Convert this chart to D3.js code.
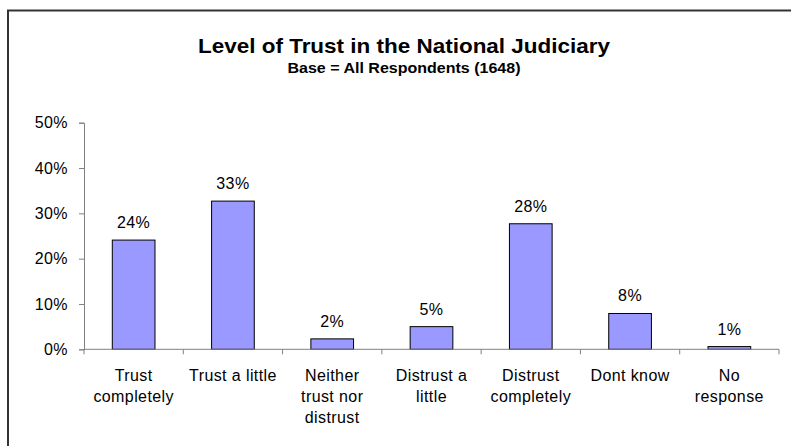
<!DOCTYPE html>
<html>
<head>
<meta charset="utf-8">
<script src="https://cdn.jsdelivr.net/npm/d3@7"></script>
<style>
  html, body { margin: 0; padding: 0; background: #fff; overflow: hidden; }
  svg { display: block; font-family: "Liberation Sans", Arial, sans-serif; }
</style>
</head>
<body>
<svg id="chart" width="791" height="446"></svg>
<script>
// Survey answers: share of all respondents per level of trust
const categories = [
  "Trust\ncompletely",
  "Trust a little",
  "Neither\ntrust nor\ndistrust",
  "Distrust a\nlittle",
  "Distrust\ncompletely",
  "Dont know",
  "No\nresponse"
];
const shares = [0.241, 0.327, 0.023, 0.050, 0.277, 0.079, 0.006];
const yTicks = [0, 0.1, 0.2, 0.3, 0.4, 0.5];
const titleText = "Level of Trust in the National Judiciary";
const subtitleText = "Base = All Respondents (1648)";

const svg = d3.select("#chart");
const pct = d3.format(".0%");

// chart frame: top and left edges (the rest runs past the canvas)
svg.append("path")
  .attr("d", "M8,446 V10.5 H791")
  .attr("fill", "none")
  .attr("stroke", "#333")
  .attr("stroke-width", 2);

const plot = { left: 84, right: 779, top: 122.7, bottom: 349.3 };

const x = d3.scaleBand()
  .domain(categories)
  .range([plot.left, plot.right])
  .padding(0);

const y = d3.scaleLinear()
  .domain([0, 0.5])
  .range([plot.bottom, plot.top]);

const barFrac = 0.43;

// titles
svg.append("text")
  .attr("x", 404).attr("y", 52.7)
  .attr("text-anchor", "middle")
  .attr("font-weight", "bold")
  .attr("font-size", 20.5)
  .attr("textLength", 412)
  .attr("lengthAdjust", "spacingAndGlyphs")
  .attr("fill", "#000")
  .text(titleText);

svg.append("text")
  .attr("x", 404).attr("y", 73.3)
  .attr("text-anchor", "middle")
  .attr("font-weight", "bold")
  .attr("font-size", 15)
  .attr("textLength", 233)
  .attr("lengthAdjust", "spacingAndGlyphs")
  .attr("fill", "#000")
  .text(subtitleText);

// y axis
const yAxis = d3.axisLeft(y)
  .tickValues(yTicks)
  .tickFormat(pct)
  .tickSize(5)
  .tickPadding(11);

const gy = svg.append("g")
  .attr("transform", `translate(${plot.left},0)`)
  .call(yAxis);
gy.select(".domain").attr("stroke", "#808080");
gy.selectAll(".tick line").attr("stroke", "#808080");
gy.selectAll(".tick text")
  .attr("font-size", 16)
  .attr("letter-spacing", 0.4)
  .attr("font-family", "Liberation Sans, Arial, sans-serif")
  .attr("fill", "#000");

// bars
svg.append("g").selectAll("rect")
  .data(categories)
  .join("rect")
  .attr("x", (d) => x(d) + x.bandwidth() * (1 - barFrac) / 2)
  .attr("width", x.bandwidth() * barFrac)
  .attr("y", (d, i) => y(shares[i]))
  .attr("height", (d, i) => y(0) - y(shares[i]))
  .attr("fill", "#9999FF")
  .attr("stroke", "#000")
  .attr("stroke-width", 1);

// value labels
svg.append("g").selectAll("text")
  .data(categories)
  .join("text")
  .attr("x", (d) => x(d) + x.bandwidth() / 2)
  .attr("y", (d, i) => y(shares[i]) - 12)
  .attr("text-anchor", "middle")
  .attr("font-size", 16)
  .attr("letter-spacing", 0.4)
  .attr("fill", "#000")
  .text((d, i) => pct(shares[i]));

// x axis: baseline with ticks at category boundaries
const gx = svg.append("g");
gx.append("line")
  .attr("x1", plot.left).attr("x2", plot.right)
  .attr("y1", y(0)).attr("y2", y(0))
  .attr("stroke", "#808080");
const bounds = categories.map((c) => x(c)).concat([plot.right]);
gx.selectAll("line.tick")
  .data(bounds)
  .join("line")
  .attr("class", "tick")
  .attr("x1", (d) => d).attr("x2", (d) => d)
  .attr("y1", y(0)).attr("y2", y(0) + 5)
  .attr("stroke", "#808080");

// category labels, one tspan per line
const lab = gx.selectAll("text")
  .data(categories)
  .join("text")
  .attr("text-anchor", "middle")
  .attr("font-size", 16)
  .attr("letter-spacing", 0.4)
  .attr("fill", "#000")
  .attr("transform", (d) => `translate(${x(d) + x.bandwidth() / 2},381)`);
lab.selectAll("tspan")
  .data((d) => d.split("\n"))
  .join("tspan")
  .attr("x", 0)
  .attr("y", (d, i) => i * 21)
  .text((d) => d);
</script>
</body>
</html>
